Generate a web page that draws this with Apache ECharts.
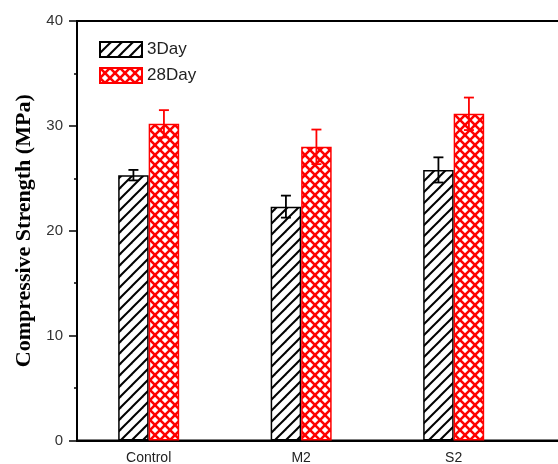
<!DOCTYPE html>
<html>
<head>
<meta charset="utf-8">
<script src="https://cdn.jsdelivr.net/npm/echarts@6/dist/echarts.min.js"></script>
<style>html,body{margin:0;padding:0;background:#fff}#c{width:558px;height:464px}</style>
</head>
<body>
<div id="c"></div>
<script>
var categories = ['Control', 'M2', 'S2'];
var seriesNames = ['3Day', '28Day'];
var day3 = [25.3, 22.3, 25.8];
var day3Err = [0.5, 1.05, 1.2];
var day28 = [30.2, 28.0, 31.15];
var day28Err = [1.3, 1.65, 1.55];
var yTicks = [0, 10, 20, 30, 40];

function hatchPattern() {
  var s = 11, c = document.createElement('canvas');
  c.width = s; c.height = s;
  var g = c.getContext('2d');
  g.fillStyle = '#fff'; g.fillRect(0, 0, s, s);
  g.strokeStyle = '#000'; g.lineWidth = 2;
  [[0, s, s, 0], [-s, s, s, -s], [0, 2 * s, 2 * s, 0]].forEach(function (l) {
    g.beginPath(); g.moveTo(l[0], l[1]); g.lineTo(l[2], l[3]); g.stroke();
  });
  return c;
}
function crossPattern() {
  var s = 10, c = document.createElement('canvas');
  c.width = s; c.height = s;
  var g = c.getContext('2d');
  g.fillStyle = '#fff'; g.fillRect(0, 0, s, s);
  g.strokeStyle = '#ff0000'; g.lineWidth = 2.6;
  [[0, s, s, 0], [-s, s, s, -s], [0, 2 * s, 2 * s, 0],
   [0, 0, s, s], [-s, 0, s, 2 * s], [0, -s, 2 * s, s]].forEach(function (l) {
    g.beginPath(); g.moveTo(l[0], l[1]); g.lineTo(l[2], l[3]); g.stroke();
  });
  return c;
}

var gridWidth = 521;
var xMin = 0.53;
var xMax = 0.53 + gridWidth / 152.5;

function barData(vals) { return vals.map(function (v, i) { return [i + 1, v]; }); }
function errData(vals, errs) { return vals.map(function (v, i) { return [i + 1, v, errs[i]]; }); }

function errSeries(vals, errs, color, dir) {
  return {
    type: 'custom',
    silent: true,
    z: 10,
    data: errData(vals, errs),
    renderItem: function (params, api) {
      var x = api.value(0), v = api.value(1), e = api.value(2);
      var pTop = api.coord([x, v + e]);
      var pBot = api.coord([x, v - e]);
      var cx = pTop[0] + dir * 15.25;
      var w = 5;
      var st = { stroke: color, lineWidth: 1.8 };
      return {
        type: 'group',
        children: [
          { type: 'line', shape: { x1: cx, y1: pTop[1], x2: cx, y2: pBot[1] }, style: st },
          { type: 'line', shape: { x1: cx - w, y1: pTop[1], x2: cx + w, y2: pTop[1] }, style: st },
          { type: 'line', shape: { x1: cx - w, y1: pBot[1], x2: cx + w, y2: pBot[1] }, style: st }
        ]
      };
    }
  };
}

var chart = echarts.init(document.getElementById('c'));
chart.setOption({
  animation: false,
  backgroundColor: '#fff',
  grid: { left: 77, width: gridWidth, top: 21, bottom: 23.5, outerBoundsMode: 'none', containLabel: false, show: true, borderColor: '#000', borderWidth: 2, backgroundColor: 'transparent' },
  legend: {
    orient: 'vertical', left: 99, top: 41, itemWidth: 42, itemHeight: 15, itemGap: 9,
    padding: 0,
    icon: 'rect',
    data: seriesNames,
    textStyle: { fontFamily: 'Liberation Sans', fontSize: 17, color: '#222' }
  },
  xAxis: {
    type: 'value', min: xMin, max: xMax,
    splitLine: { show: false },
    axisLine: { onZero: false, lineStyle: { color: '#000', width: 2 } },
    axisTick: { show: false },
    axisLabel: {
      customValues: [1, 2, 3],
      margin: 11,
      fontFamily: 'Liberation Sans', fontSize: 14, color: '#222',
      formatter: function (v) { return categories[Math.round(v) - 1] || ''; }
    }
  },
  yAxis: {
    type: 'value', min: yTicks[0], max: yTicks[yTicks.length - 1], interval: 10,
    name: 'Compressive Strength (MPa)', nameLocation: 'middle', nameGap: 40,
    nameTextStyle: { fontFamily: 'Liberation Serif', fontWeight: 'bold', fontSize: 22, color: '#000' },
    splitLine: { show: false },
    axisLine: { show: true, lineStyle: { color: '#000', width: 2 } },
    axisTick: { show: true, length: 8, lineStyle: { color: '#000', width: 1.5 } },
    minorTick: { show: true, splitNumber: 2, length: 3, lineStyle: { color: '#000', width: 1.5 } },
    axisLabel: { margin: 14, fontFamily: 'Liberation Sans', fontSize: 15, color: '#333' }
  },
  series: [
    {
      name: seriesNames[0], type: 'bar', barWidth: 30.5, barGap: '0%',
      data: barData(day3),
      itemStyle: { color: { image: hatchPattern(), repeat: 'repeat' }, borderColor: '#000', borderWidth: 1.5 }
    },
    {
      name: seriesNames[1], type: 'bar', barWidth: 30.5, barGap: '0%',
      data: barData(day28),
      itemStyle: { color: { image: crossPattern(), repeat: 'repeat' }, borderColor: '#ff0000', borderWidth: 1.5 }
    },
    errSeries(day3, day3Err, '#000', -1),
    errSeries(day28, day28Err, '#ff0000', 1)
  ]
});
</script>
</body>
</html>
